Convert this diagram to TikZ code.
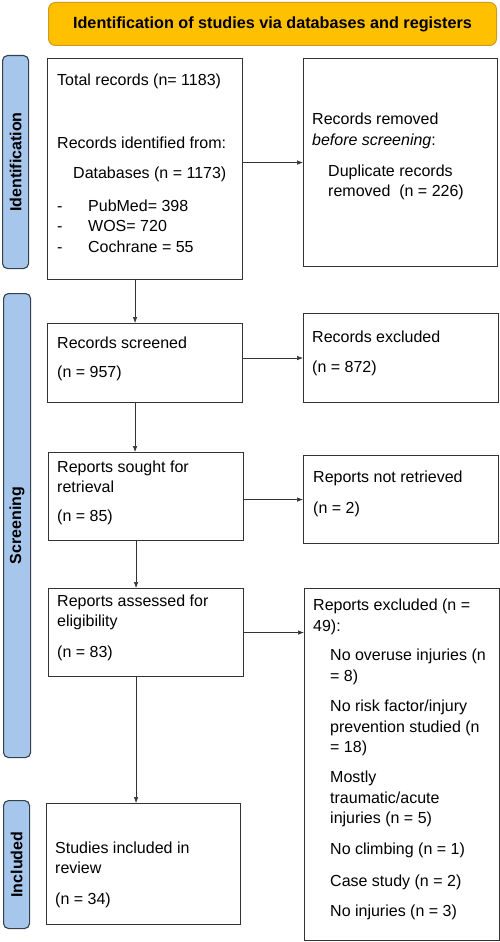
\documentclass[tikz,border=0pt]{standalone}
\usepackage{fontspec}
\setmainfont{Liberation Sans}
\usetikzlibrary{arrows.meta}
\definecolor{titlefill}{HTML}{FFC000}
\definecolor{titleline}{HTML}{D09A1C}
\definecolor{phasefill}{HTML}{A6C6EC}
\definecolor{phaseline}{HTML}{36404C}
\definecolor{boxline}{HTML}{333333}
\newcommand{\dashitem}[1]{\makebox[31pt][l]{-}#1}
\tikzset{
  box/.style={draw=boxline, line width=1.1pt, anchor=north west, inner sep=0pt},
  phase/.style={draw=phaseline, fill=phasefill, line width=1.1pt, rounded corners=5pt, anchor=north west, inner sep=0pt},
  txt/.style={anchor=west, inner sep=0pt, align=left, font=\fontsize{16}{20.5}\selectfont},
  lbl/.style={rotate=90, inner sep=0pt, font=\fontsize{16}{19}\selectfont\bfseries},
}
\begin{document}
\begin{tikzpicture}[x=1pt, y=-1pt]
      \useasboundingbox (0,0) rectangle (500,942);
      \node[draw=titleline, fill=titlefill, line width=1pt, rounded corners=7pt, anchor=north west,
        minimum width=448pt, minimum height=43pt, font=\fontsize{16.2}{19}\selectfont\bfseries]
        (head) at (48,2) {Identification of studies via databases and registers};
      \node[phase, minimum width=26pt, minimum height=213pt] (idp) at (2,55) {};
      \node[phase, minimum width=27pt, minimum height=464pt] (scp) at (3,293) {};
      \node[phase, minimum width=26pt, minimum height=128pt] (inp) at (3,800) {};
      \node[lbl] (idl) at (idp.center) {Identification};
      \node[lbl] (scl) at (scp.center) {Screening};
      \node[lbl] (inl) at (inp.center) {Included};
      \node[box, minimum width=195pt, minimum height=221pt] (tot) at (47,58) {};
      \node[box, minimum width=194pt, minimum height=208pt] (rem) at (303,58) {};
      \node[box, minimum width=195pt, minimum height=79pt] (scr) at (47,323) {};
      \node[box, minimum width=195pt, minimum height=89pt] (exc) at (303,313) {};
      \node[box, minimum width=195pt, minimum height=88pt] (sou) at (48,452) {};
      \node[box, minimum width=195pt, minimum height=88pt] (nrt) at (303,455) {};
      \node[box, minimum width=195pt, minimum height=88pt] (ass) at (48,588) {};
      \node[box, minimum width=195pt, minimum height=352pt] (rex) at (304,588) {};
      \node[box, minimum width=194pt, minimum height=121pt] (inc) at (46,803) {};
      \draw
        (57,81) node[txt] (t1){Total records (n= 1183)}
        (57,143) node[txt] (t2){Records identified from:}
        (73,174) node[txt] (t3){Databases (n = 1173)}
        (57,226) node[txt] (t4){\dashitem{PubMed= 398}\\\dashitem{WOS= 720}\\\dashitem{Cochrane = 55}}
        (312,131) node[txt] (r1){Records removed\\\textit{before screening}:}
        (328,182.5) node[txt] (r2){Duplicate records\\removed~~(n = 226)}
        (57,343) node[txt] (s1){Records screened}
        (57,373) node[txt] (s2){(n = 957)}
        (312,337) node[txt] (e1){Records excluded}
        (312,368) node[txt] (e2){(n = 872)}
        (57,477) node[txt] (o1){Reports sought for\\retrieval}
        (57,517) node[txt] (o2){(n = 85)}
        (313,478) node[txt] (n1){Reports not retrieved}
        (313,509) node[txt] (n2){(n = 2)}
        (57,612.5) node[txt] (a1){Reports assessed for\\eligibility}
        (57,653) node[txt] (a2){(n = 83)}
        (313,617) node[txt] (x1){Reports excluded (n =\\49):}
        (330,667) node[txt] (x2){No overuse injuries (n\\= 8)}
        (330,728) node[txt] (x3){No risk factor/injury\\prevention studied (n\\= 18)}
        (330,799) node[txt] (x4){Mostly\\traumatic/acute\\injuries (n = 5)}
        (330,850) node[txt] (x5){No climbing (n = 1)}
        (330,882) node[txt] (x6){Case study (n = 2)}
        (330,912) node[txt] (x7){No injuries (n = 3)}
        (55,858) node[txt] (i1){Studies included in\\review}
        (55,900) node[txt] (i2){(n = 34)};
      \begin{scope}[-{Latex[length=6pt,width=4.5pt]}, draw=black!80, line width=0.6pt]
        \draw (rem.west -| tot.east) to (rem.west);
        \draw ([xshift=-10pt]tot.south) to ([xshift=-10pt]tot.south |- scr.north);
        \draw (exc.west -| scr.east) to (exc.west);
        \draw ([xshift=-10pt]scr.south) to ([xshift=-10pt]scr.south |- sou.north);
        \draw (nrt.west -| sou.east) to (nrt.west);
        \draw ([xshift=-10pt]sou.south) to ([xshift=-10pt]sou.south |- ass.north);
        \draw (ass.east) to (ass.east -| rex.west);
        \draw ([xshift=-10pt]ass.south) to ([xshift=-10pt]ass.south |- inc.north);
      \end{scope}
    \end{tikzpicture}
\end{document}
